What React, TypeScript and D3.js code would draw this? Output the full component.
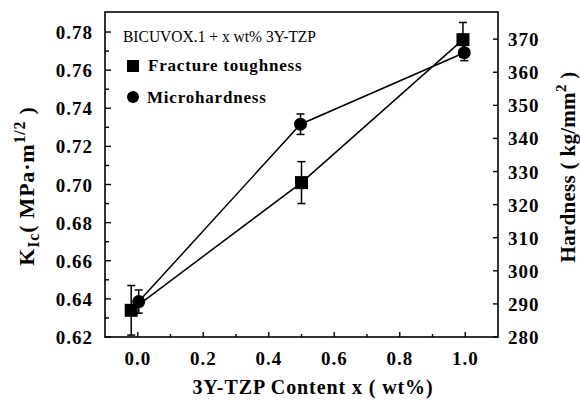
import React from "react";
import * as d3 from "d3";

const xTough = [-0.02, 0.5, 0.993];
const toughness = [0.634, 0.701, 0.776];
const toughErr = [0.013, 0.011, 0.009];

const xHard = [0.003, 0.497, 0.997];
const hardness = [290.7, 344.3, 365.9];
const hardErr = [3.5, 3.1, 2.4];

const xTicks = [0, 0.2, 0.4, 0.6, 0.8, 1.0];
const xMinor = [0.1, 0.3, 0.5, 0.7, 0.9];
const leftTicks = [0.62, 0.64, 0.66, 0.68, 0.7, 0.72, 0.74, 0.76, 0.78];
const leftMinor = [0.63, 0.65, 0.67, 0.69, 0.71, 0.73, 0.75, 0.77];
const rightTicks = [280, 290, 300, 310, 320, 330, 340, 350, 360, 370];

const L = 105, R = 498, T = 12, B = 337;
const FONT = "'Liberation Serif', 'Times New Roman', serif";

export default function App() {
  const x = d3.scaleLinear().domain([-0.1, 1.1]).range([L, R]);
  const yL = d3.scaleLinear().domain([0.62, 0.7905]).range([B, T]);
  const yR = d3.scaleLinear().domain([280, 378.2]).range([B, T]);

  const toughPts: [number, number][] = xTough.map((v, i) => [x(v), yL(toughness[i])]);
  const hardPts: [number, number][] = xHard.map((v, i) => [x(v), yR(hardness[i])]);
  const line = d3.line();

  const cap = 4;
  return (
    <svg width={580} height={400} style={{ position: "absolute", left: 0, top: 0, background: "#fff" }} fontFamily={FONT}>
      <rect x={0} y={0} width={580} height={400} fill="#fff" />
      {/* frame */}
      <rect x={L} y={T} width={R - L} height={B - T} fill="none" stroke="#000" strokeWidth={1.6} />
      {/* x ticks */}
      {xTicks.map((t) => (
        <g key={"xt" + t}>
          <line x1={x(t)} x2={x(t)} y1={B} y2={B - 5} stroke="#000" strokeWidth={1.4} />
          <text x={x(t)} y={365} textAnchor="middle" fontSize={19} fontWeight="bold" letterSpacing={1}>
            {t.toFixed(1)}
          </text>
        </g>
      ))}
      {xMinor.map((t) => (
        <line key={"xm" + t} x1={x(t)} x2={x(t)} y1={B} y2={B - 3} stroke="#000" strokeWidth={1.4} />
      ))}
      {/* left ticks */}
      {leftTicks.map((t) => (
        <g key={"lt" + t}>
          <line x1={L} x2={L + 6} y1={yL(t)} y2={yL(t)} stroke="#000" strokeWidth={1.4} />
          <text x={93} y={yL(t) + 7} textAnchor="end" fontSize={19} fontWeight="bold" letterSpacing={1}>
            {t.toFixed(2)}
          </text>
        </g>
      ))}
      {leftMinor.map((t) => (
        <line key={"lm" + t} x1={L} x2={L + 4} y1={yL(t)} y2={yL(t)} stroke="#000" strokeWidth={1.4} />
      ))}
      {/* right ticks */}
      {rightTicks.map((t) => (
        <g key={"rt" + t}>
          <line x1={R} x2={R - 5} y1={yR(t)} y2={yR(t)} stroke="#000" strokeWidth={1.4} />
          <text x={508} y={yR(t) + 7} textAnchor="start" fontSize={19} fontWeight="bold" letterSpacing={1}>
            {t}
          </text>
        </g>
      ))}
      {/* axis titles */}
      <text x={313} y={394} textAnchor="middle" fontSize={20} fontWeight="bold" letterSpacing={0.9}>
        3Y-TZP Content x ( wt%)
      </text>
      <text transform="translate(34,186) rotate(-90)" textAnchor="middle" fontSize={22} fontWeight="bold" letterSpacing={0.8}>
        K<tspan fontSize={16} dy={5}>Ic</tspan>
        <tspan dy={-5}>( MPa·m</tspan>
        <tspan fontSize={16} dy={-9}>1/2</tspan>
        <tspan dy={9}> )</tspan>
      </text>
      <text transform="translate(575,167) rotate(-90)" textAnchor="middle" fontSize={21} fontWeight="bold" letterSpacing={0.3}>
        Hardness ( kg/mm<tspan fontSize={15} dy={-9}>2</tspan>
        <tspan dy={9}> )</tspan>
      </text>
      {/* lines */}
      <path d={line(toughPts) || ""} fill="none" stroke="#000" strokeWidth={1.5} />
      <path d={line(hardPts) || ""} fill="none" stroke="#000" strokeWidth={1.5} />
      {/* error bars */}
      {xTough.map((v, i) => {
        const cx = x(v), y1 = yL(toughness[i] - toughErr[i]), y2 = yL(toughness[i] + toughErr[i]);
        return (
          <g key={"te" + i} stroke="#000" strokeWidth={1.5}>
            <line x1={cx} x2={cx} y1={y1} y2={y2} />
            <line x1={cx - cap} x2={cx + cap} y1={y1} y2={y1} />
            <line x1={cx - cap} x2={cx + cap} y1={y2} y2={y2} />
          </g>
        );
      })}
      {xHard.map((v, i) => {
        const cx = x(v), y1 = yR(hardness[i] - hardErr[i]), y2 = yR(hardness[i] + hardErr[i]);
        return (
          <g key={"he" + i} stroke="#000" strokeWidth={1.5}>
            <line x1={cx} x2={cx} y1={y1} y2={y2} />
            <line x1={cx - cap} x2={cx + cap} y1={y1} y2={y1} />
            <line x1={cx - cap} x2={cx + cap} y1={y2} y2={y2} />
          </g>
        );
      })}
      {/* markers */}
      {toughPts.map(([px, py], i) => (
        <rect key={"ts" + i} x={px - 6.5} y={py - 6.5} width={13} height={13} fill="#000" />
      ))}
      {hardPts.map(([px, py], i) => (
        <circle key={"hc" + i} cx={px} cy={py} r={6.5} fill="#000" />
      ))}
      {/* legend */}
      <text x={123} y={42} fontSize={17.5} textLength={193} lengthAdjust="spacingAndGlyphs">BICUVOX.1 + x wt% 3Y-TZP</text>
      <rect x={127} y={60} width={12} height={12} fill="#000" />
      <text x={148} y={71} fontSize={17} fontWeight="bold" letterSpacing={0.8}>Fracture toughness</text>
      <circle cx={133} cy={97} r={6} fill="#000" />
      <text x={147} y={103} fontSize={17} fontWeight="bold" letterSpacing={0.8}>Microhardness</text>
    </svg>
  );
}
